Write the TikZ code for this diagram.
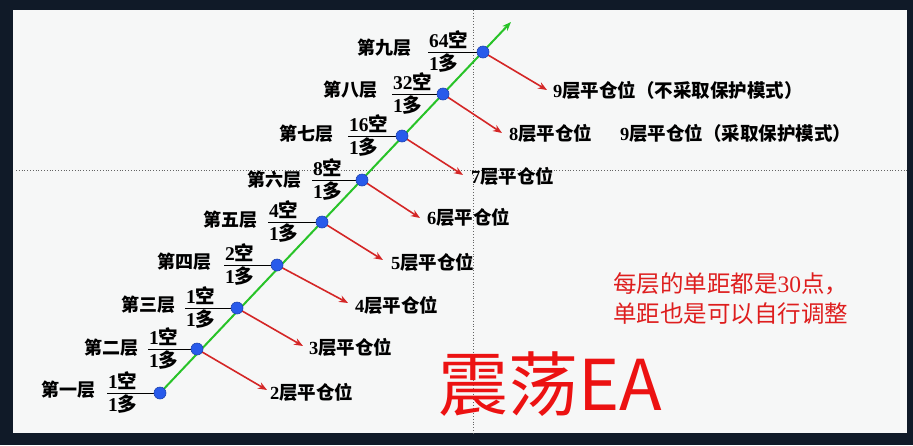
\documentclass[tikz,border=0pt]{standalone}
\usepackage{fontspec}
\setmainfont{Liberation Serif}
\newfontfamily\cjk{Noto Sans CJK SC}
\usetikzlibrary{arrows.meta}
\definecolor{framebg}{RGB}{16,26,40}
\definecolor{panel}{RGB}{246,247,247}
\definecolor{gline}{RGB}{40,195,40}
\definecolor{dotblue}{RGB}{40,90,235}
\definecolor{redarr}{RGB}{212,38,38}
\definecolor{redtxt}{RGB}{222,30,30}
\definecolor{bigred}{RGB}{236,18,18}
\definecolor{dotgrey}{RGB}{100,100,100}
\tikzset{
  bluedot/.style={circle,fill=dotblue,draw=dotblue!75!black,line width=0.6pt,minimum size=12pt,inner sep=0pt},
  fracbar/.style={draw=black,line width=0.9pt},
  greenline/.style={draw=gline,line width=2pt,-{Stealth[length=9pt,width=7pt]}},
  redarrow/.style={draw=redarr,line width=1.6pt,-{Stealth[length=9pt,width=7pt]}},
  lvltxt/.style={font=\cjk\bfseries\fontsize{18}{20}\selectfont,inner sep=0pt},
  fractxt/.style={font=\fontsize{19.5}{21}\selectfont,inner sep=0pt,anchor=west},
  postxt/.style={font=\fontsize{18.5}{20}\selectfont,inner sep=0pt,anchor=west},
  notetxt/.style={font=\fontsize{23.5}{26}\selectfont,text=redtxt,inner sep=0pt,anchor=west},
  guide/.style={draw=dotgrey,line width=0.8pt,dotted}
}
\begin{document}
\begin{tikzpicture}[x=1pt,y=-1pt]
\useasboundingbox (0,0) rectangle (913,445);
\fill[framebg] (0,0) rectangle (913,445);
\fill[panel] (13,10) rectangle (907,433);
% guide lines
\coordinate (hl) at (16,170); \coordinate (hr) at (907,170);
\coordinate (vt) at (473,10); \coordinate (vb) at (473,433);
\draw[guide] (hl) -- (hr);
\draw[guide] (vt) -- (vb);
% green trend line
\coordinate (c1) at (160,393);
\coordinate (gtip) at (511,22);
\draw[greenline] (c1) -- (gtip);
% levels
\foreach \n/\dx/\dy/\bx/\lx/\ly/\num/\cn in {
  1/160/393/107/68/390/1/一,
  2/197/349/148/111/348/1/二,
  3/237/308/185/148/305/1/三,
  4/277/265/224/184/262/2/四,
  5/322/222/268/230/220/4/五,
  6/362/180/312/274/180/8/六,
  7/402/136/348/306/134/16/七,
  8/443/94/392/350/90/32/八,
  9/483/52/428/384/48/64/九}{
  \coordinate (b\n) at (\bx,\dy);
  \coordinate (p\n) at (\dx,\dy);
  \draw[fracbar] (b\n) -- (p\n);
  \node[fractxt] (n\n) at (\bx+1,\dy-12.5) {\textbf{\num}{\cjk\bfseries 空}};
  \node[fractxt] (m\n) at (\bx+1,\dy+11) {\textbf{1}{\cjk\bfseries 多}};
  \node[lvltxt] (l\n) at (\lx,\ly) {第\cn 层};
}
% red arrows
\foreach \n/\tx/\ty in {
  2/267/390,
  3/303/346,
  4/348/303,
  5/383/260,
  6/420/218,
  7/463/175,
  8/502/133,
  9/547/90}{
  \coordinate (t\n) at (\tx,\ty);
  \draw[redarrow] (p\n) -- (t\n);
}
\foreach \n/\dx/\dy in {1/160/393,2/197/349,3/237/308,4/277/265,5/322/222,6/362/180,7/402/136,8/443/94,9/483/52}{
  \node[bluedot] (d\n) at (\dx,\dy) {};
}
\node[postxt] (s2) at (270,392) {\textbf{2}{\cjk\bfseries 层平仓位}};
\node[postxt] (s3) at (309,347) {\textbf{3}{\cjk\bfseries 层平仓位}};
\node[postxt] (s4) at (355,305) {\textbf{4}{\cjk\bfseries 层平仓位}};
\node[postxt] (s5) at (391,262) {\textbf{5}{\cjk\bfseries 层平仓位}};
\node[postxt] (s6) at (427,217) {\textbf{6}{\cjk\bfseries 层平仓位}};
\node[postxt] (s7) at (471,176) {\textbf{7}{\cjk\bfseries 层平仓位}};
\node[postxt] (s8) at (509,133) {\textbf{8}{\cjk\bfseries 层平仓位}};
\node[postxt] (s8b) at (620,133) {\textbf{9}{\cjk\bfseries 层平仓位（采取保护模式）}};
\node[postxt] (s9) at (553,90) {\textbf{9}{\cjk\bfseries 层平仓位（不采取保护模式）}};
% notes
\node[notetxt] (note1) at (613,284) {{\cjk 每层的单距都是}30{\cjk 点，}};
\node[notetxt] (note2) at (613,314) {\cjk 单距也是可以自行调整};
\node[font=\cjk\fontsize{70}{72}\selectfont,text=bigred,inner sep=0pt,anchor=west] (title) at (438,384) {震荡EA};
\end{tikzpicture}
\end{document}
